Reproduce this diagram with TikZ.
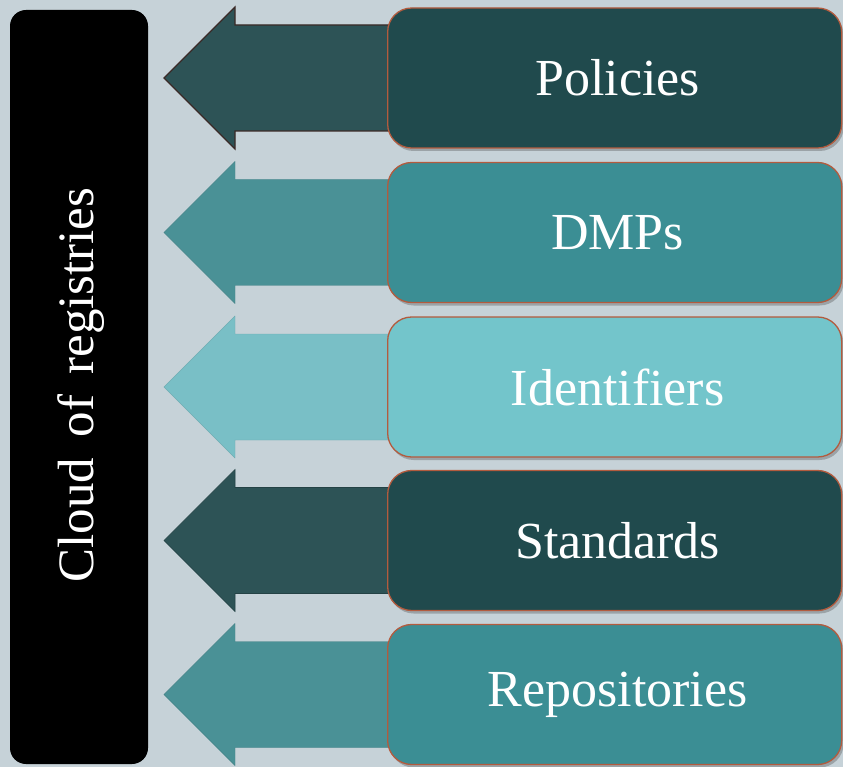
\documentclass[tikz,border=0pt]{standalone}
\usepackage{fontspec}
\setmainfont{Liberation Serif}
\usetikzlibrary{shadows}
\definecolor{bg}{HTML}{C6D2D8}
\definecolor{darkbox}{HTML}{204A4D}
\definecolor{darkarr}{HTML}{2D5356}
\definecolor{midbox}{HTML}{3B8E94}
\definecolor{midarr}{HTML}{4A9196}
\definecolor{lightbox}{HTML}{73C5CB}
\definecolor{lightarr}{HTML}{79BFC6}
\definecolor{rim}{HTML}{B35B3E}
\definecolor{arrline}{HTML}{3B2A27}
\begin{document}
\begin{tikzpicture}[x=1pt,y=-1pt,
  itembox/.style={draw=rim, line width=1.3pt, rounded corners=24pt,
    minimum width=454pt, minimum height=140pt, inner sep=0pt, anchor=west,
    text=white, font=\fontsize{52}{56}\selectfont,
    drop shadow={shadow xshift=2pt, shadow yshift=-3pt, opacity=0.35, fill=black!70}},
  cloudbox/.style={fill=black, rounded corners=16pt}
]
\useasboundingbox (0,0) rectangle (843,767);
\fill[bg] (0,0) rectangle (843,767);
% left black box
\fill[cloudbox] (10,10) rectangle (148,764);
\node[rotate=90, text=white, font=\fontsize{51}{55}\selectfont] (cloud) at (81,385)
  {Cloud\hspace{0.4em}of\hspace{0.4em}registries};
% arrows
\newcommand{\blockarrow}[3]{%
  \fill[#2,#3] (164,#1) -- (235,#1-71) -- (235,#1-53) -- (400,#1-53)
    -- (400,#1+53) -- (235,#1+53) -- (235,#1+71) -- cycle;}
\blockarrow{78}{darkarr}{draw=arrline, line width=1.1pt, line join=miter}
\blockarrow{232.5}{midarr}{draw=midarr!90!black, line width=0.4pt}
\blockarrow{387}{lightarr}{draw=lightarr!90!black, line width=0.4pt}
\blockarrow{540.5}{darkarr}{draw=darkarr!80!black, line width=0.6pt}
\blockarrow{694.5}{midarr}{draw=midarr!90!black, line width=0.4pt}
% boxes
\node[itembox, fill=darkbox] (policies) at (387,78) {\hspace*{6pt}Policies};
\node[itembox, fill=midbox] (dmps) at (387,232.5) {\hspace*{6pt}DMPs};
\node[itembox, fill=lightbox] (identifiers) at (387,387) {\hspace*{6pt}Identifiers};
\node[itembox, fill=darkbox] (standards) at (387,540.5) {\hspace*{6pt}Standards};
\node[itembox, fill=midbox] (repositories) at (387,694.5) {\hspace*{6pt}Repositories};
\end{tikzpicture}
\end{document}
